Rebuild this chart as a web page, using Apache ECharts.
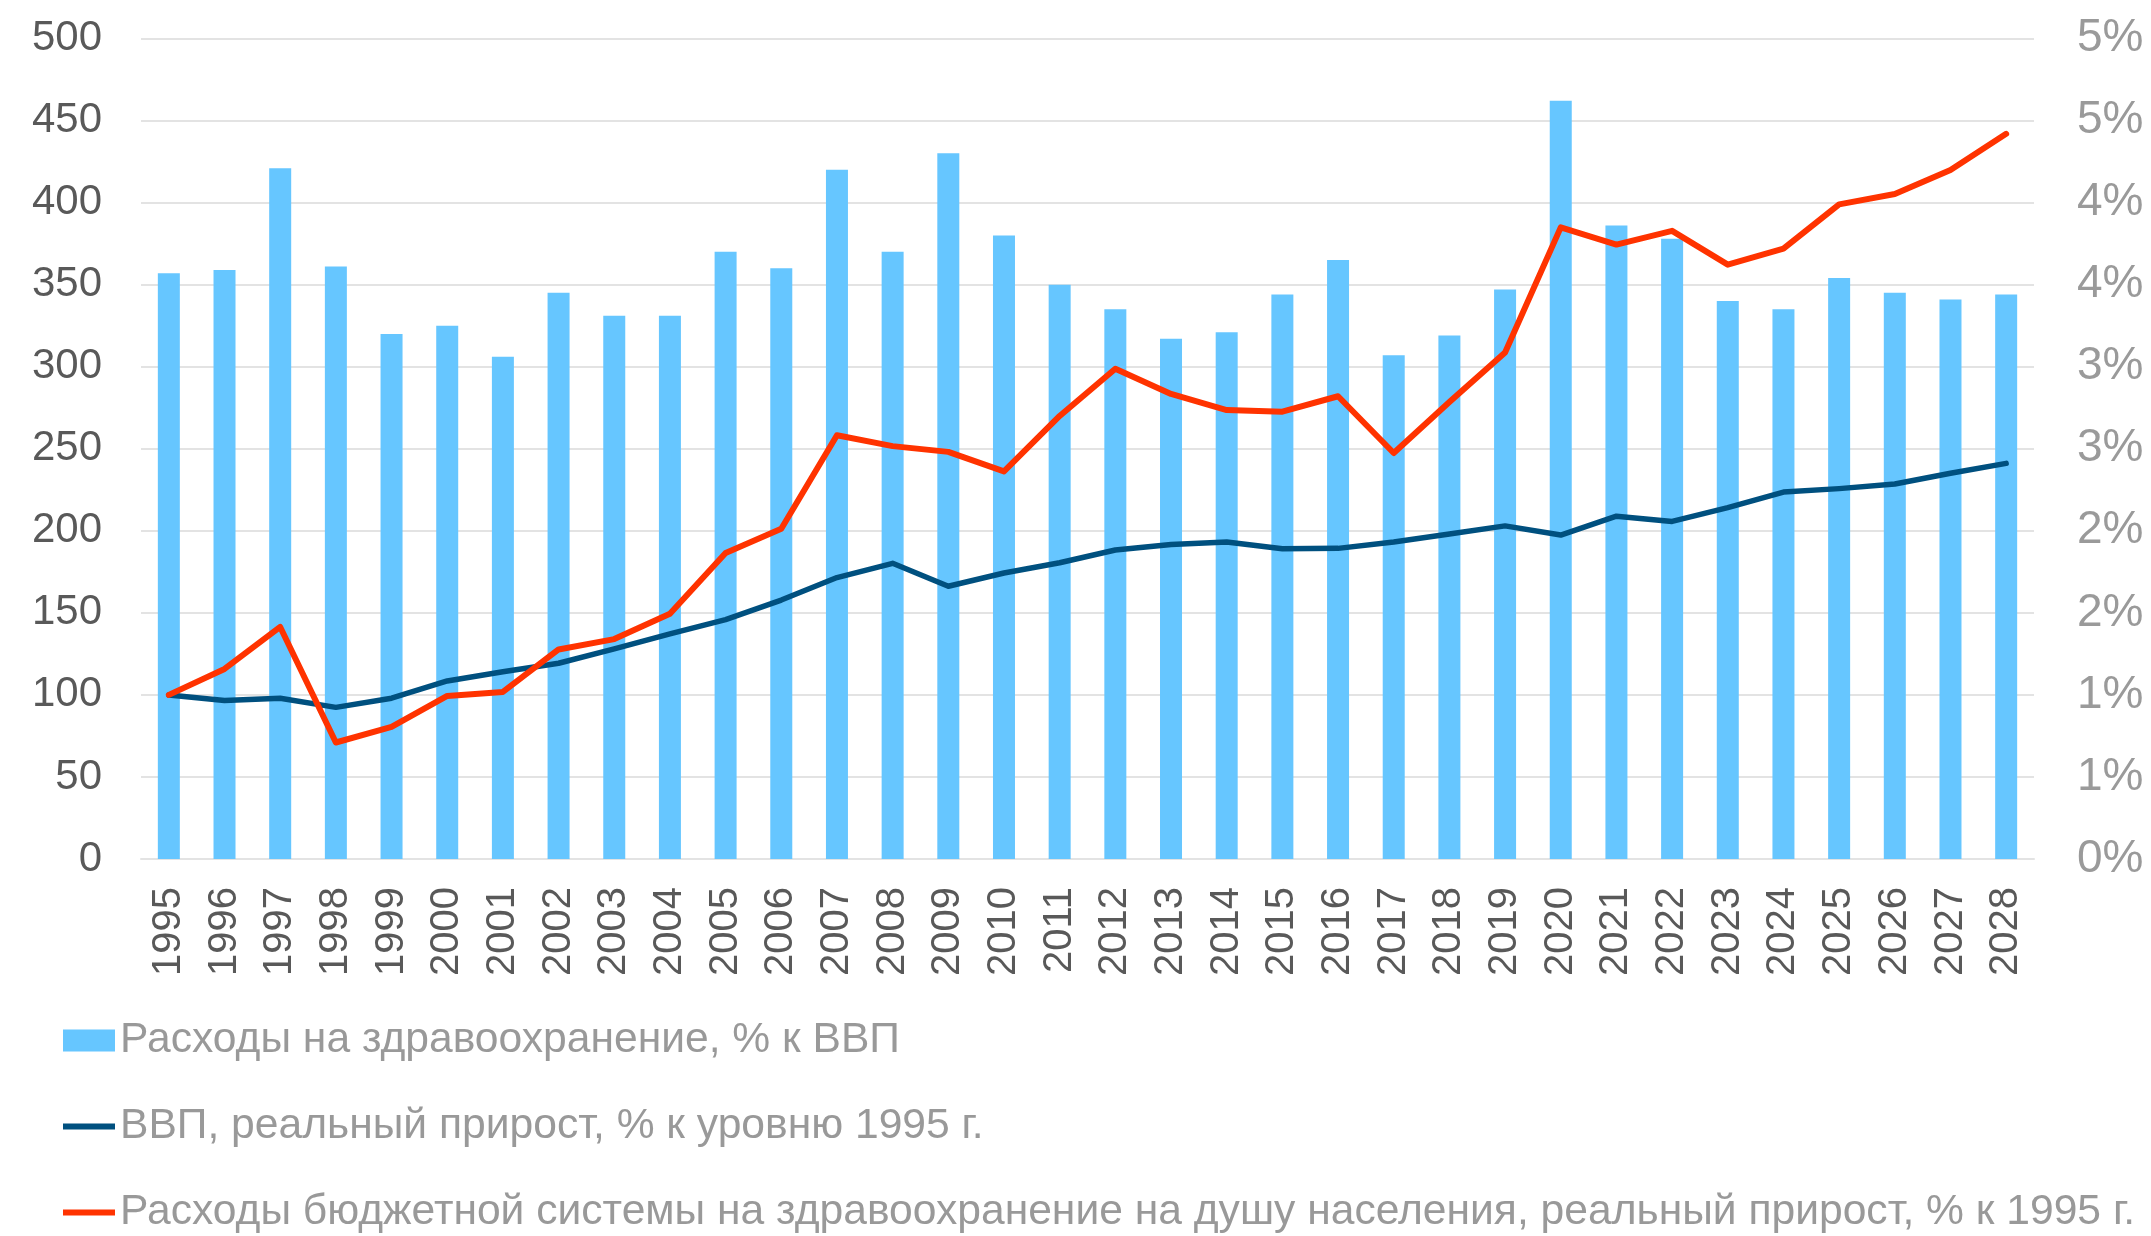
<!DOCTYPE html>
<html>
<head>
<meta charset="utf-8">
<script src="https://cdn.jsdelivr.net/npm/echarts@6/dist/echarts.min.js"></script>
<style>
  html, body { margin: 0; padding: 0; background: #fff; }
  #chart { width: 2151px; height: 1236px; }
</style>
</head>
<body>
<div id="chart"></div>
<script>
// годы
const years = ['1995', '1996', '1997', '1998', '1999', '2000', '2001', '2002', '2003', '2004',
  '2005', '2006', '2007', '2008', '2009', '2010', '2011', '2012', '2013', '2014',
  '2015', '2016', '2017', '2018', '2019', '2020', '2021', '2022', '2023', '2024',
  '2025', '2026', '2027', '2028']

// расходы на здравоохранение, % к ВВП (правая ось)
const healthShare = [3.57, 3.59, 4.21, 3.61, 3.20, 3.25, 3.06, 3.45, 3.31, 3.31,
  3.70, 3.60, 4.20, 3.70, 4.30, 3.80, 3.50, 3.35, 3.17, 3.21,
  3.44, 3.65, 3.07, 3.19, 3.47, 4.62, 3.86, 3.78, 3.40, 3.35,
  3.54, 3.45, 3.41, 3.44]

// ВВП, % к 1995 (левая ось)
const gdpIndex = [100, 96.6, 98.0, 92.4, 98.0, 108.5, 114.1, 119.3, 128.1, 137.2,
  145.9, 157.8, 171.5, 180.2, 166.2, 174.3, 180.5, 188.3, 191.7, 193.2,
  189.0, 189.3, 193.2, 198.0, 203.0, 197.4, 208.9, 205.7, 214.1, 223.6,
  225.7, 228.5, 235.1, 241.1]

// расходы бюджетной системы на душу, % к 1995 (левая ось)
const budgetIndex = [100, 115.8, 141.4, 71.0, 80.5, 99.4, 101.8, 127.7, 134.0, 149.4,
  186.5, 201.2, 258.2, 251.6, 248.1, 236.2, 270.0, 298.8, 283.4, 273.6,
  272.6, 282.0, 247.4, 278.5, 308.6, 384.9, 374.4, 382.8, 362.2, 371.9,
  398.9, 405.2, 419.9, 441.9]

const names = [
  'Расходы на здравоохранение, % к ВВП',
  'ВВП, реальный прирост, % к уровню 1995 г.',
  'Расходы бюджетной системы на здравоохранение на душу населения, реальный прирост, % к 1995 г.'
]

const font = 'Liberation Sans, Arial, sans-serif'
// значок-линия для легенды (толщина 6 при ширине 52)
const lineIcon = 'path://M0,0L52,0L52,6L0,6Z'

const chartObj = echarts.init(document.getElementById('chart'))

const option = {
  animation: false,
  textStyle: { fontFamily: font },
  grid: { left: 141, right: 117, top: 38.5, bottom: 377 },
  legend: {
    orient: 'vertical',
    left: 63,
    top: 1019,
    height: 300,
    padding: 0,
    itemGap: 43,
    itemWidth: 52,
    itemHeight: 22,
    textStyle: { fontSize: 42.6, color: '#999999', fontFamily: font },
    data: [
      { name: names[0], icon: 'rect' },
      { name: names[1], icon: lineIcon },
      { name: names[2], icon: lineIcon }
    ]
  },
  xAxis: {
    type: 'category',
    data: years,
    axisTick: { show: false },
    axisLine: { lineStyle: { color: '#E3E3E3', width: 2 } },
    axisLabel: {
      rotate: 90,
      interval: 0,
      margin: 28,
      fontSize: 40,
      color: '#595959',
      fontFamily: font
    }
  },
  yAxis: [
    {
      type: 'value',
      min: 0,
      max: 500,
      interval: 50,
      axisLine: { show: false },
      axisTick: { show: false },
      splitLine: { lineStyle: { color: '#E3E3E3', width: 2 } },
      axisLabel: { fontSize: 42, color: '#595959', margin: 39, fontFamily: font }
    },
    {
      type: 'value',
      min: 0,
      max: 5,
      interval: 0.5,
      position: 'right',
      axisLine: { show: false },
      axisTick: { show: false },
      splitLine: { show: false },
      axisLabel: {
        fontSize: 46,
        color: '#9A9A9A',
        margin: 43,
        fontFamily: font,
        formatter: function (v) {
          return Math.round(v) + '%'
        }
      }
    }
  ],
  series: [
    {
      name: names[0],
      type: 'bar',
      yAxisIndex: 1,
      barWidth: 22,
      itemStyle: { color: '#66C6FF' },
      data: healthShare
    },
    {
      name: names[1],
      type: 'line',
      yAxisIndex: 0,
      symbol: 'none',
      lineStyle: { color: '#00507F', width: 5.5, cap: 'round', join: 'round' },
      itemStyle: { color: '#00507F' },
      data: gdpIndex
    },
    {
      name: names[2],
      type: 'line',
      yAxisIndex: 0,
      symbol: 'none',
      lineStyle: { color: '#FF3300', width: 6, cap: 'round', join: 'round' },
      itemStyle: { color: '#FF3300' },
      data: budgetIndex
    }
  ]
}

chartObj.setOption(option)
</script>
</body>
</html>
